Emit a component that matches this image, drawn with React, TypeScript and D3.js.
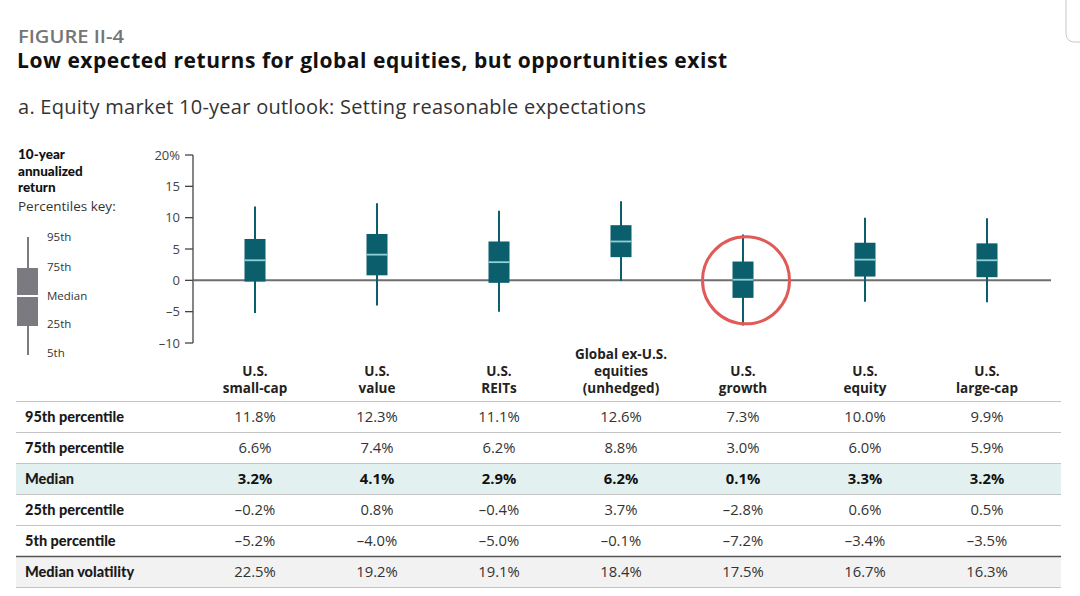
import React from "react";
import * as d3 from "d3";

const categories = [
  ["U.S.", "small-cap"],
  ["U.S.", "value"],
  ["U.S.", "REITs"],
  ["Global ex-U.S.", "equities", "(unhedged)"],
  ["U.S.", "growth"],
  ["U.S.", "equity"],
  ["U.S.", "large-cap"],
];
const p95 = [11.8, 12.3, 11.1, 12.6, 7.3, 10.0, 9.9];
const p75 = [6.6, 7.4, 6.2, 8.8, 3.0, 6.0, 5.9];
const median = [3.2, 4.1, 2.9, 6.2, 0.1, 3.3, 3.2];
const p25 = [-0.2, 0.8, -0.4, 3.7, -2.8, 0.6, 0.5];
const p5 = [-5.2, -4.0, -5.0, -0.1, -7.2, -3.4, -3.5];
const volatility = [22.5, 19.2, 19.1, 18.4, 17.5, 16.7, 16.3];
const yTicks = [20, 15, 10, 5, 0, -5, -10];
const rowLabels = ["95th percentile", "75th percentile", "Median", "25th percentile", "5th percentile", "Median volatility"];
const keyLabels = ["95th", "75th", "Median", "25th", "5th"];
const highlighted = 4;

const FONT = "'Open Sans', sans-serif";
const LATO = "Lato, sans-serif";
const TEAL = "#0b5f6c";

const fmt = (v: number) => (v < 0 ? "–" : "") + Math.abs(v).toFixed(1) + "%";
const tickFmt = (v: number) => (v === 20 ? "20%" : v < 0 ? "–" + Math.abs(v) : String(v));

export default function App() {
  const y = d3.scaleLinear().domain([-10, 20]).range([343, 155]);
  const idx = categories.map((_, i) => i);
  const x = d3.scalePoint<number>().domain(idx).range([255, 987]);
  const bw = 21;

  const rows = [p95, p75, median, p25, p5, volatility];
  const tableTop = 401.5;
  const rowH = 31;
  const tx0 = 16, tx1 = 1061;
  const keyY = [241, 271, 300, 328, 357];

  return (
    <svg width={1080} height={596} style={{ position: "absolute", left: 0, top: 0, background: "#fff" }} fontFamily={FONT}>
      <rect width={1080} height={596} fill="#fff" />
      <rect x={1066} y={-20} width={40} height={62} rx={8} fill="none" stroke="#c8c8c8" strokeWidth={1} />

      <text x={18} y={42.7} fontSize={17.5} fontWeight={600} textLength={106} lengthAdjust="spacingAndGlyphs" fill="#757575">FIGURE II-4</text>
      <text x={17} y={67.5} fontSize={21} fontWeight={700} textLength={710} lengthAdjust="spacing" fill="#111">Low expected returns for global equities, but opportunities exist</text>
      <text x={18} y={114} fontSize={20} textLength={628} lengthAdjust="spacing" fill="#333">a. Equity market 10-year outlook: Setting reasonable expectations</text>

      {/* legend */}
      <text x={18} y={159} fontSize={13.5} fontWeight={900} fontFamily={LATO} fill="#111">10-year</text>
      <text x={18} y={175.5} fontSize={13.5} fontWeight={900} fontFamily={LATO} fill="#111">annualized</text>
      <text x={18} y={192} fontSize={13.5} fontWeight={900} fontFamily={LATO} fill="#111">return</text>
      <text x={18} y={211} fontSize={13.5} fill="#333">Percentiles key:</text>
      <line x1={28} x2={28} y1={237} y2={355} stroke="#7a7a80" strokeWidth={2} />
      <rect x={17} y={268} width={21} height={58} fill="#7a7a80" />
      <line x1={17} x2={38} y1={296} y2={296} stroke="#fff" strokeWidth={2} />
      {keyLabels.map((t, k) => (
        <text key={t} x={47} y={keyY[k]} fontSize={11.5} fill="#333">{t}</text>
      ))}

      {/* y axis */}
      <line x1={193} x2={193} y1={y(20)} y2={y(-10)} stroke="#444" strokeWidth={1.3} />
      {yTicks.map((t) => (
        <g key={t}>
          <line x1={185} x2={193} y1={y(t)} y2={y(t)} stroke="#444" strokeWidth={1.3} />
          <text x={180} y={y(t) + 4.5} fontSize={13} textAnchor="end" fill="#444">{tickFmt(t)}</text>
        </g>
      ))}
      <line x1={193} x2={1051} y1={y(0)} y2={y(0)} stroke="#6e6e6e" strokeWidth={2} />

      {/* boxes */}
      {idx.map((i) => {
        const cx = x(i)!;
        return (
          <g key={i}>
            <line x1={cx} x2={cx} y1={y(p95[i])} y2={y(p5[i])} stroke={TEAL} strokeWidth={2} />
            <rect x={cx - bw / 2} y={y(p75[i])} width={bw} height={y(p25[i]) - y(p75[i])} fill={TEAL} />
            <line x1={cx - bw / 2} x2={cx + bw / 2} y1={y(median[i])} y2={y(median[i])} stroke="#8fd0d4" strokeWidth={1.8} />
          </g>
        );
      })}
      <circle cx={x(highlighted)! + 3} cy={y(0)} r={43.5} fill="none" stroke="#e05a58" strokeWidth={3} />

      {/* category labels */}
      {categories.map((lines, i) => {
        const n = lines.length;
        return (
          <text key={i} x={x(i)!} textAnchor="middle" fontSize={13.5} fontWeight={700} fill="#222">
            {lines.map((l, j) => (
              <tspan key={j} x={x(i)!} y={392.5 - (n - 1 - j) * 17}>{l}</tspan>
            ))}
          </text>
        );
      })}

      {/* table */}
      <rect x={tx0} y={tableTop + 2 * rowH} width={tx1 - tx0} height={rowH} fill="#e2f1f0" />
      <rect x={tx0} y={tableTop + 5 * rowH} width={tx1 - tx0} height={rowH} fill="#f2f2f2" />
      {d3.range(7).map((k) => (
        <line key={k} x1={tx0} x2={tx1} y1={tableTop + k * rowH} y2={tableTop + k * rowH}
          stroke={k === 5 ? "#555" : "#c4c4c4"} strokeWidth={k === 5 ? 1.6 : 1.2} />
      ))}
      {rows.map((vals, r) => {
        const cy = tableTop + r * rowH + rowH / 2 + 5;
        return (
          <g key={r}>
            <text x={25} y={cy} fontSize={14.5} fontWeight={900} fontFamily={LATO} fill="#1a1a1a">{rowLabels[r]}</text>
            {vals.map((v, i) => (
              <text key={i} x={x(i)!} y={cy} fontSize={14.8} textAnchor="middle"
                fontWeight={r === 2 ? 700 : 400} fill={r === 2 ? "#111" : "#333"}>{fmt(v)}</text>
            ))}
          </g>
        );
      })}
    </svg>
  );
}
